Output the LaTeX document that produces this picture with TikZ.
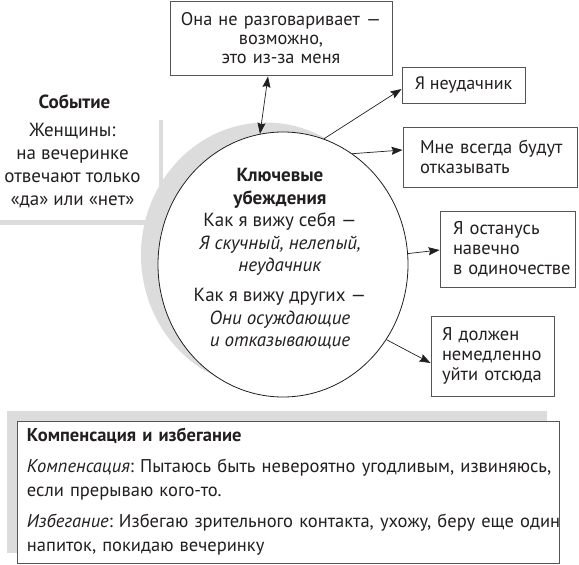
\documentclass[tikz,border=0pt]{standalone}
\usepackage{fontspec}
\setmainfont{PT Sans}
\frenchspacing
\usetikzlibrary{shapes.geometric,arrows.meta,calc}
\definecolor{shadowgray}{HTML}{DCDCDC}
\definecolor{boxline}{HTML}{555555}
\definecolor{ink}{HTML}{231F20}
\newcommand{\oneline}[1]{\mbox{#1}}
\tikzset{
  txt/.style={font=\fontsize{18.5}{20}\selectfont, text=ink},
  framed/.style={txt, draw=boxline, line width=0.9pt, fill=white, inner ysep=0pt},
  arr/.style={draw=ink, line width=0.7pt, -{Stealth[length=11pt,width=8pt,inset=1.5pt]}},
  darr/.style={draw=ink, line width=0.7pt, {Stealth[length=11pt,width=8pt,inset=1.5pt]}-{Stealth[length=11pt,width=8pt,inset=1.5pt]}},
}
\begin{document}
\begin{tikzpicture}[x=1pt,y=-1pt]
\useasboundingbox (0,0) rectangle (579,565);
% event shadow lines
\fill[shadowgray] (0,220) rectangle (163,225);
\fill[shadowgray] (159,120) rectangle (163,225);
% event text
\node[txt, font=\fontsize{19}{20}\selectfont\bfseries] (evtitle) at (74.5,102) {Событие};
\node[txt, align=center, font=\fontsize{19}{23}\selectfont] (evtext) at (72.5,166) {Женщины:\\на вечеринке\\отвечают только\\«да» или «нет»};
% circle with crescent shadow
\fill[shadowgray] (266,255) ellipse [x radius=125, y radius=132.5];
\node[draw=ink, line width=0.8pt, fill=white, ellipse, minimum width=250, minimum height=265, inner sep=0pt] (core) at (283,264.5) {};
\node[txt, align=center, font=\fontsize{19}{22.5}\selectfont] (coretext) at (280,259) {{\bfseries Ключевые}\\{\bfseries убеждения}\\Как я вижу себя —\\\textit{Я скучный, нелепый,}\\\textit{неудачник}\\[7.5pt]Как я вижу других —\\\textit{Они осуждающие}\\\textit{и отказывающие}};
% top box
\node[framed, align=center, minimum width=222, minimum height=74, text width=214, inner xsep=4pt, font=\fontsize{18.3}{19}\selectfont] (topbox) at (281,38) {\oneline{Она не разговаривает —}\\возможно,\\это из-за меня};
% right boxes
\node[framed, align=center, minimum width=123, minimum height=36, inner xsep=0pt, font=\fontsize{18}{20}\selectfont] (neud) at (463.5,85) {Я неудачник};
\node[framed, align=left, minimum height=60, text width=140, inner xsep=17pt] (vsegda) at (490,157) {\oneline{Мне всегда будут}\\\oneline{отказывать}};
\node[framed, align=left, minimum height=76, text width=109, inner xsep=13pt] (odin) at (507.5,249) {\oneline{Я останусь}\\\oneline{навечно}\\\oneline{в одиночестве}};
\node[framed, align=left, minimum height=80, text width=101, inner xsep=11pt] (uiti) at (492.5,356) {\oneline{Я должен}\\\oneline{немедленно}\\\oneline{уйти отсюда}};
% bottom box shadow and box
\fill[shadowgray] (7,411) rectangle (547,553);
\node[framed, align=left, minimum height=142, text width=522, inner xsep=10pt, font=\fontsize{18.5}{24}\selectfont] (bottom) at (288,492) {\oneline{\bfseries Компенсация и избегание}\\[7pt]\oneline{\textit{Компенсация}: Пытаюсь быть невероятно угодливым, извиняюсь,}\\\oneline{если прерываю кого-то.}\\[7pt]\oneline{\textit{Избегание}: Избегаю зрительного контакта, ухожу, беру еще один}\\\oneline{напиток, покидаю вечеринку}};
% connectors
\draw[darr] ($(topbox.south)+(-13,1)$) -- (core.100);
\draw[arr] (core.72) -- ($(neud.west)+(0,4)$);
\draw[arr] (core.58) -- ($(vsegda.west)+(0,-7)$);
\draw[arr] (core.5) -- ($(odin.west)+(0,1)$);
\draw[arr] (core.-36) -- ($(uiti.west)+(0,7)$);
\end{tikzpicture}
\end{document}
